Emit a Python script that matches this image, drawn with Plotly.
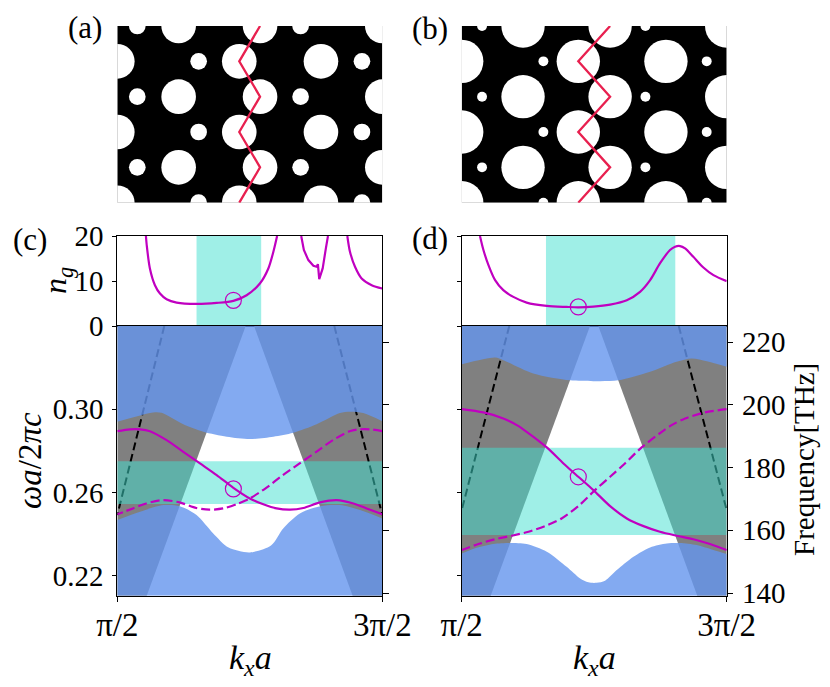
import plotly.graph_objects as go

# ---------- data ----------
even_rows = [0, 1, 2]
odd_rows = [0.5, 1.5, 2.5]
large_cols_a = [(0, even_rows), (0.868, odd_rows), (1.726, even_rows), (2.02, odd_rows), (2.882, even_rows), (3.75, odd_rows)]
small_cols_a = [(0.283, odd_rows), (1.151, even_rows), (2.594, odd_rows), (3.462, even_rows)]
large_cols_b = [(0, even_rows), (0.868, odd_rows), (1.65, even_rows), (2.10, odd_rows), (2.89, even_rows), (3.75, odd_rows)]
small_cols_b = [(0.288, odd_rows), (1.156, even_rows), (2.6, odd_rows), (3.467, even_rows)]
radius_large_a, radius_small_a = 0.245, 0.118
radius_large_b, radius_small_b = 0.307, 0.07
zig_y = [2.5, 2, 1.5, 1, 0.5, 0]
zig_a_x = [2.02, 1.726, 2.02, 1.726, 2.02, 1.726]
zig_b_x = [2.10, 1.65, 2.10, 1.65, 2.10, 1.65]

# (c) group index
ng_c1_k = [.608, .611, .623, .642, .661, .686, .724, .799, .875, .938, .988, 1.038, 1.07, 1.089, 1.103]
ng_c1 = [20, 18, 12.79, 9.07, 7.21, 5.95, 5.2, 4.91, 5.13, 5.58, 6.84, 9.44, 12.79, 16.51, 20]
ng_c2_k = [1.194, 1.204, 1.221, 1.24, 1.252, 1.257, 1.262, 1.275, 1.287, 1.295]
ng_c2 = [20, 16.88, 14.65, 13.38, 13.16, 13.75, 10.4, 12.79, 17.25, 20]
ng_c3_k = [1.368, 1.378, 1.397, 1.422, 1.46, 1.5]
ng_c3 = [20, 16.51, 13.16, 10.56, 9.07, 8.33]
span_c = [0.799, 1.043]
mark_c = (0.938, 5.7, 0.2617)

# (d) group index
ng_d_k = [.569, .582, .601, .626, .657, .695, .745, .821, .896, .940, .997, 1.060, 1.123, 1.173, 1.211, 1.248, 1.286, 1.305, 1.324, 1.343, 1.374, 1.412, 1.450, 1.5]
ng_d = [20, 16.88, 13.53, 10.19, 7.96, 6.47, 5.2, 4.46, 4.24, 4.16, 4.31, 4.76, 5.72, 7.58, 10.19, 13.9, 16.88, 17.62, 17.77, 17.25, 15.39, 13.0, 11.3, 9.96]
span_d = [0.818, 1.306]
mark_d = (0.94, 4.24, 0.2675)

W_BOT, W_TOP = 0.2104, 0.3399
F_BOT, F_TOP = 139.14, 225.1

# (c) bands
upper_c_k = [.5, .636, .667, .749, .825, .913, 1.0, 1.089, 1.164, 1.252, 1.340, 1.378, 1.428, 1.5]
upper_c_w = [.2939, .2984, .2982, .2927, .2891, .2867, .2856, .2867, .2886, .2927, .2981, .2987, .2981, .2942]
lower_c_k = [.5, .586, .674, .736, .799, .862, .92, 1.0, 1.08, 1.126, 1.189, 1.265, 1.340, 1.416, 1.5]
lower_c_w = [.2467, .2507, .2539, .2534, .2491, .2403, .2335, .2312, .2345, .2427, .2499, .2534, .2539, .2515, .2475]
teal_c = [0.2544, 0.2750]
mode_c_k = [.5, .548, .586, .623, .686, .749, .812, .875, .938, 1, 1.051, 1.101, 1.152, 1.202, 1.265, 1.328, 1.391, 1.441, 1.5]
mode_c_w = [.2894, .2903, .2903, .2894, .2851, .2795, .2739, .2683, .2622, .2571, .2543, .2523, .2517, .2525, .2552, .2563, .2547, .2523, .2495]
cone_c = [(.9845, .611), (1.016, 1.388)]
slab_c_left = ([.6774, .5], [.3399, .2491])
slab_c_right = ([1.3189, 1.5], [.3399, .2491])

# (d) bands
upper_d_k = [.5, .626, .657, .770, .909, .997, 1.091, 1.211, 1.311, 1.368, 1.425, 1.5]
upper_d_w = [.3215, .3248, .3235, .3171, .3138, .3134, .3138, .3179, .3227, .3243, .3230, .3203]
lower_d_k = [.5, .557, .619, .682, .745, .821, .896, .947, .978, 1.009, 1.041, 1.085, 1.148, 1.211, 1.274, 1.324, 1.387, 1.45, 1.5]
lower_d_w = [.2307, .2334, .2352, .2357, .2352, .2315, .2243, .2187, .2168, .2166, .2176, .2227, .2291, .2336, .2355, .2357, .2347, .2323, .2304]
teal_d = [0.2395, 0.2814]
mode_d_k = [.5, .582, .657, .708, .745, .821, .884, .940, .997, 1.060, 1.123, 1.186, 1.248, 1.311, 1.374, 1.437, 1.5]
mode_d_w = [.30, .2984, .2955, .2923, .2891, .2816, .2739, .2675, .2611, .2534, .2475, .2438, .2411, .2392, .2375, .2352, .2323]
cone_d = [(.9842, .6094), (1.0155, 1.389)]
slab_d_left = ([.6796, .5], [.3399, .2515])
slab_d_right = ([1.319, 1.5], [.3399, .2515])

omega_ticks = [0.22, 0.26, 0.30]
ng_ticks = [0, 10, 20]
freq_ticks = [140, 160, 180, 200, 220]
k_ticks = [0.5, 1.5]
k_labels = ["π/2", "3π/2"]

# ---------- style ----------
FONT = "Liberation Serif"
FS = 29
MAG = "#c000c0"
GRAY = "#808080"
BLUE = "rgba(100,149,237,0.8)"
TEAL = "rgba(64,224,208,0.5)"
RED = "#e8204f"
W, H = 830, 687
PX_PER_UNIT = 265 / 3.75
SMOOTH = 0.8


def dx(a, b):
    return [a / W, b / W]


def dy(top, bottom):
    return [1 - bottom / H, 1 - top / H]


fig = go.Figure()


def flat(cols):
    xs, ys = [], []
    for c, rows in cols:
        for r in rows:
            xs.append(c)
            ys.append(r)
    return xs, ys


def add_image(xa, ya, large, small, rl, rs, zig_x):
    fig.add_trace(go.Scatter(x=[0, 3.75, 3.75, 0, 0], y=[0, 0, 2.5, 2.5, 0], mode="lines", fill="toself",
                             fillcolor="black", line=dict(width=0), xaxis=xa, yaxis=ya, hoverinfo="skip", showlegend=False))
    for cols, r in ((large, rl), (small, rs)):
        xs, ys = flat(cols)
        fig.add_trace(go.Scatter(x=xs, y=ys, mode="markers", cliponaxis=True,
                                 marker=dict(color="white", size=2 * r * PX_PER_UNIT, line=dict(width=0)),
                                 xaxis=xa, yaxis=ya, hoverinfo="skip", showlegend=False))
    fig.add_trace(go.Scatter(x=zig_x, y=zig_y, mode="lines", line=dict(color=RED, width=2.3),
                             xaxis=xa, yaxis=ya, hoverinfo="skip", showlegend=False))


add_image("x", "y", large_cols_a, small_cols_a, radius_large_a, radius_small_a, zig_a_x)
add_image("x2", "y2", large_cols_b, small_cols_b, radius_large_b, radius_small_b, zig_b_x)


def add_ng(xa, ya, segments, span, mark):
    fig.add_trace(go.Scatter(x=[span[0], span[1], span[1], span[0], span[0]], y=[0, 0, 20, 20, 0], mode="lines",
                             fill="toself", fillcolor=TEAL, line=dict(width=0), xaxis=xa, yaxis=ya,
                             hoverinfo="skip", showlegend=False))
    for sx, sy, shape in segments:
        line = dict(color=MAG, width=2.2, shape=shape)
        if shape == "spline":
            line["smoothing"] = SMOOTH
        fig.add_trace(go.Scatter(x=sx, y=sy, mode="lines", line=line,
                                 xaxis=xa, yaxis=ya, hoverinfo="skip", showlegend=False))
    fig.add_trace(go.Scatter(x=[mark[0]], y=[mark[1]], mode="markers",
                             marker=dict(symbol="circle-open", size=16, color=MAG, line=dict(color=MAG, width=1.2)),
                             xaxis=xa, yaxis=ya, hoverinfo="skip", showlegend=False))


add_ng("x3", "y3", [(ng_c1_k, ng_c1, "spline"), (ng_c2_k, ng_c2, "linear"), (ng_c3_k, ng_c3, "spline")], span_c, mark_c)
add_ng("x5", "y6", [(ng_d_k, ng_d, "spline")], span_d, mark_d)


def add_bands(xa, ya, ya_r, cone, slabs, upper, lower, teal, mode, mark):
    common = dict(xaxis=xa, yaxis=ya, hoverinfo="skip", showlegend=False)
    (l_top, l_bot), (r_top, r_bot) = cone
    # regions outside the light cone
    fig.add_trace(go.Scatter(x=[.5, l_top, l_bot, .5, .5], y=[W_TOP, W_TOP, W_BOT, W_BOT, W_TOP], mode="lines", fill="toself",
                             fillcolor=GRAY, line=dict(width=0), **common))
    fig.add_trace(go.Scatter(x=[r_top, 1.5, 1.5, r_bot, r_top], y=[W_TOP, W_TOP, W_BOT, W_BOT, W_TOP], mode="lines", fill="toself",
                             fillcolor=GRAY, line=dict(width=0), **common))
    # slab light lines
    for sx, sy in slabs:
        fig.add_trace(go.Scatter(x=sx, y=sy, mode="lines", line=dict(color="black", width=2, dash="8px,4px"), **common))
    # bulk bands
    fig.add_trace(go.Scatter(x=[.5, 1.5], y=[W_TOP, W_TOP], mode="lines", line=dict(width=0), **common))
    fig.add_trace(go.Scatter(x=upper[0], y=upper[1], mode="lines", line=dict(width=0, shape="spline", smoothing=SMOOTH),
                             fill="tonexty", fillcolor=BLUE, **common))
    fig.add_trace(go.Scatter(x=[.5, 1.5], y=[W_BOT, W_BOT], mode="lines", line=dict(width=0), **common))
    fig.add_trace(go.Scatter(x=lower[0], y=lower[1], mode="lines", line=dict(width=0, shape="spline", smoothing=SMOOTH),
                             fill="tonexty", fillcolor=BLUE, **common))
    # guided window
    fig.add_trace(go.Scatter(x=[.5, 1.5, 1.5, .5, .5], y=[teal[0], teal[0], teal[1], teal[1], teal[0]], mode="lines",
                             fill="toself", fillcolor=TEAL, line=dict(width=0), **common))
    # modes
    fig.add_trace(go.Scatter(x=mode[0], y=mode[1], mode="lines",
                             line=dict(color=MAG, width=2.2, shape="spline", smoothing=SMOOTH), **common))
    fig.add_trace(go.Scatter(x=[2 - v for v in mode[0]], y=mode[1], mode="lines",
                             line=dict(color=MAG, width=2.2, shape="spline", smoothing=SMOOTH, dash="9px,4px"), **common))
    fig.add_trace(go.Scatter(x=[mark[0]], y=[mark[2]], mode="markers",
                             marker=dict(symbol="circle-open", size=16, color=MAG, line=dict(color=MAG, width=1.2)), **common))
    # companion frequency axis
    fig.add_trace(go.Scatter(x=[k_ticks[0]] * len(freq_ticks), y=freq_ticks, mode="lines", line=dict(width=0),
                             opacity=0, xaxis=xa, yaxis=ya_r, hoverinfo="skip", showlegend=False))


add_bands("x4", "y4", "y5", cone_c, [slab_c_left, slab_c_right], (upper_c_k, upper_c_w), (lower_c_k, lower_c_w), teal_c, (mode_c_k, mode_c_w), mark_c)
add_bands("x6", "y7", "y8", cone_d, [slab_d_left, slab_d_right], (upper_d_k, upper_d_w), (lower_d_k, lower_d_w), teal_d, (mode_d_k, mode_d_w), mark_d)

font = dict(family=FONT, size=FS, color="black")
hidden = dict(visible=False, showgrid=False, zeroline=False, fixedrange=True)
frame = dict(showline=True, linecolor="black", linewidth=1, mirror=True, showgrid=False, zeroline=False, automargin=False,
             ticks="outside", ticklen=4, tickcolor="black", tickwidth=1, tickfont=font, fixedrange=True, ticklabelstandoff=3)
kframe = {**frame, "ticklen": 5, "tickfont": dict(family=FONT, size=33, color="black"), "ticklabelstandoff": -5}
rframe = {**frame, "mirror": False, "ticklen": 5.5}

XC = dx(117.3, 382.3)
XD = dx(461.7, 726.7)
Y_IMG = dy(26, 202.7)
Y_NG = dy(236, 326)
Y_BAND = dy(326, 595.7)


def note(text, px, py, size, angle=0):
    return dict(text=text, x=px / W, y=1 - py / H, xref="paper", yref="paper", showarrow=False, xanchor="center",
                yanchor="middle", textangle=angle, font=dict(family=FONT, size=size, color="black"))


layout = dict(
    width=W, height=H, margin=dict(l=0, r=0, t=0, b=0, pad=0), autosize=False,
    paper_bgcolor="white", plot_bgcolor="white", showlegend=False, font=dict(family=FONT, color="black"),
    xaxis=dict(domain=XC, range=[0, 3.75], anchor="y", **hidden),
    yaxis=dict(domain=Y_IMG, range=[0, 2.5], anchor="x", **hidden),
    xaxis2=dict(domain=XD, range=[0, 3.75], anchor="y2", **hidden),
    yaxis2=dict(domain=Y_IMG, range=[0, 2.5], anchor="x2", **hidden),
    xaxis3=dict(domain=XC, range=[.5, 1.5], anchor="y3", **{**frame, "ticks": "", "showticklabels": False}),
    yaxis3=dict(domain=Y_NG, range=[0, 20], anchor="x3", tickvals=ng_ticks, **frame),
    xaxis4=dict(domain=XC, range=[.5, 1.5], anchor="y4", tickvals=k_ticks, ticktext=k_labels, **kframe),
    yaxis4=dict(domain=Y_BAND, range=[W_BOT, W_TOP], anchor="x4", tickvals=omega_ticks,
                ticktext=["%.2f" % v for v in omega_ticks], **frame),
    yaxis5=dict(domain=Y_BAND, range=[F_BOT, F_TOP], anchor="x4", overlaying="y4", side="right", tickvals=freq_ticks,
                **{**rframe, "showticklabels": False}),
    xaxis5=dict(domain=XD, range=[.5, 1.5], anchor="y6", **{**frame, "ticks": "", "showticklabels": False}),
    yaxis6=dict(domain=Y_NG, range=[0, 20], anchor="x5", tickvals=ng_ticks, **{**frame, "showticklabels": False}),
    xaxis6=dict(domain=XD, range=[.5, 1.5], anchor="y7", tickvals=k_ticks, ticktext=k_labels, **kframe),
    yaxis7=dict(domain=Y_BAND, range=[W_BOT, W_TOP], anchor="x6", tickvals=omega_ticks, **{**frame, "showticklabels": False}),
    yaxis8=dict(domain=Y_BAND, range=[F_BOT, F_TOP], anchor="x6", overlaying="y7", side="right", tickvals=freq_ticks, **rframe),
    annotations=[
        note("(a)", 85, 27.5, 31), note("(b)", 430, 28, 31), note("(c)", 30, 239, 31), note("(d)", 430, 238, 31),
        note("<i>n<sub>g</sub></i>", 57, 281, 32, -90),
        note("<i>ωa</i>/2<i>πc</i>", 30, 461, 33, -90),
        note("<i>k<sub>x</sub>a</i>", 250, 660, 34),
        note("<i>k<sub>x</sub>a</i>", 594.2, 660, 34),
        note("Frequency[THz]", 804, 460, 29, -90),
    ],
)
fig.update_layout(**layout)
fig.write_html("out.html", config=dict(displayModeBar=False),
               post_script="document.body.style.margin='0';document.documentElement.style.overflow='hidden';")
